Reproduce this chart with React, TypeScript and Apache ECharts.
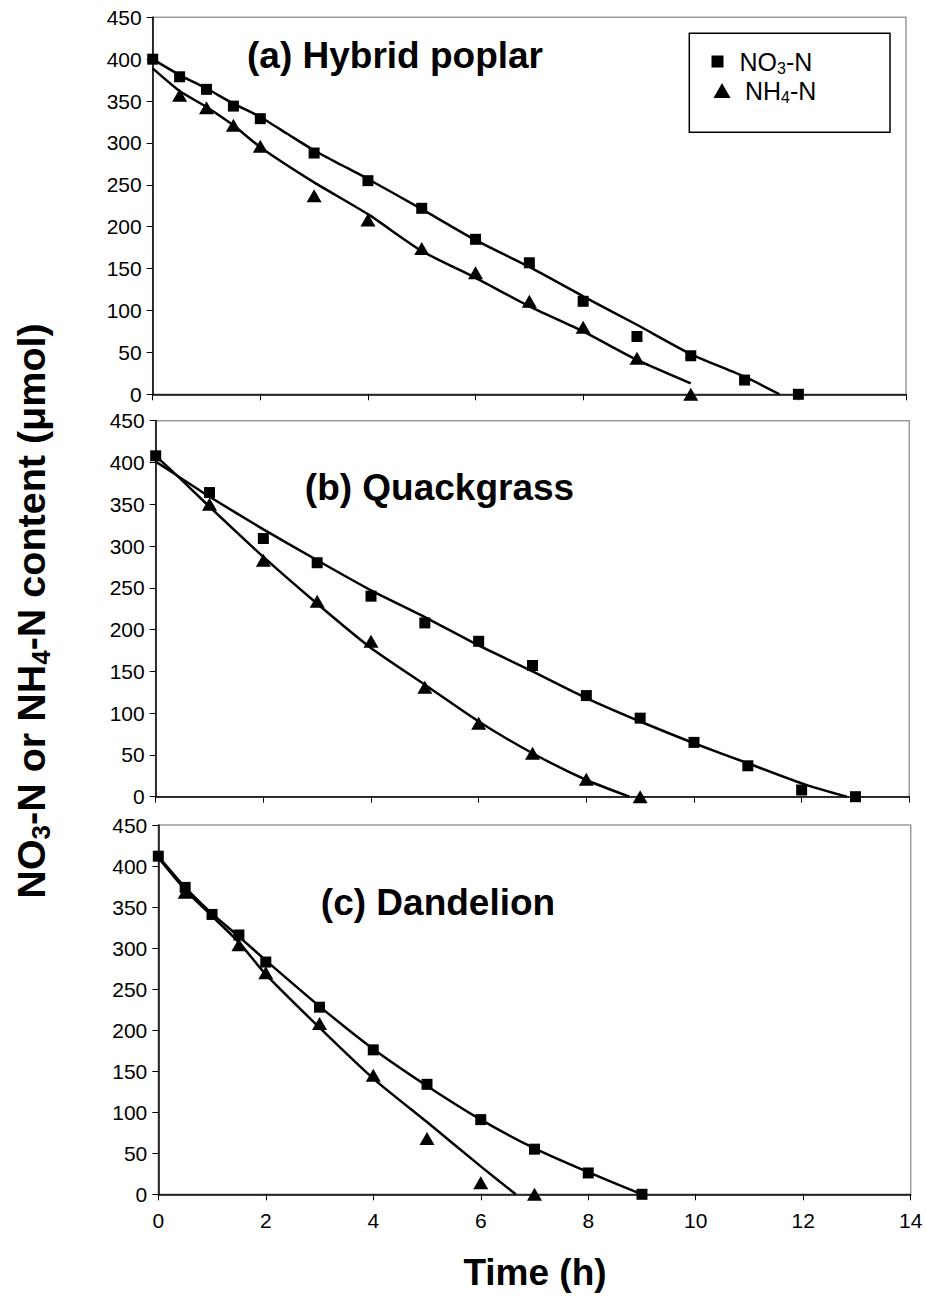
import React, { useEffect, useRef } from "react";
import * as echarts from "echarts";

// ---------- Data ----------
// Panel (a) Hybrid poplar
const timeA_NO3 = [0, 0.5, 1, 1.5, 2, 3, 4, 5, 6, 7, 8, 9, 10, 11, 12];
const valA_NO3 = [400, 379, 364, 344, 329, 288, 255, 222, 185, 157, 111, 69, 46, 17, 0];
const timeA_NH4 = [0.5, 1, 1.5, 2, 3, 4, 5, 6, 7, 8, 9, 10];
const valA_NH4 = [357, 342, 321, 296, 237, 208, 174, 145, 111, 80, 43, 0];
const fitTimeA_NO3 = [0, 0.5, 1, 1.5, 2, 2.5, 3, 3.5, 4, 5, 6, 7, 8, 9, 10, 11, 11.65];
const fitValA_NO3 = [400, 381, 365, 347, 331, 311, 291, 274, 257, 221, 184, 152, 117, 83, 48, 21, 0];
const fitTimeA_NH4 = [0, 0.5, 1, 1.5, 2, 3, 4, 5, 6, 7, 8, 9, 10];
const fitValA_NH4 = [389, 362, 343, 321, 295, 253, 215, 171, 139, 105, 75, 41, 13];

// Panel (b) Quackgrass
const timeB_NO3 = [0, 1, 2, 3, 4, 5, 6, 7, 8, 9, 10, 11, 12, 13];
const valB_NO3 = [408, 364, 309, 280, 240, 208, 186, 157, 121, 94, 65, 37, 8, 0];
const timeB_NH4 = [1, 2, 3, 4, 5, 6, 7, 8, 9];
const valB_NH4 = [350, 283, 234, 186, 131, 88, 52, 21, 0];
const fitTimeB_NO3 = [0, 0.5, 1, 2, 3, 4, 5, 6, 7, 8, 9, 10, 11, 12, 12.84];
const fitValB_NO3 = [401, 380, 359, 320, 283, 247, 215, 181, 150, 118, 90, 64, 40, 16, 0];
const fitTimeB_NH4 = [0, 0.5, 1, 2, 3, 4, 5, 6, 7, 8, 8.8];
const fitValB_NH4 = [408, 378, 347, 287, 231, 178, 134, 90, 52, 20, 0];

// Panel (c) Dandelion
const timeC_NO3 = [0, 0.5, 1, 1.5, 2, 3, 4, 5, 6, 7, 8, 9];
const valC_NO3 = [412, 374, 341, 316, 283, 228, 176, 134, 91, 55, 26, 0];
const timeC_NH4 = [0.5, 1.5, 2, 3, 4, 5, 6, 7];
const valC_NH4 = [368, 304, 270, 208, 145, 68, 14, 0];
const fitTimeC_NO3 = [0, 0.5, 1, 1.5, 2, 3, 4, 5, 6, 7, 8, 9];
const fitValC_NO3 = [412, 374, 342, 314, 285, 229, 177, 132, 91, 56, 27, 0];
const fitTimeC_NH4 = [0, 0.5, 1, 1.5, 2, 3, 4, 5, 6, 6.65];
const fitValC_NH4 = [410, 371, 339, 307, 268, 203, 141, 88, 34, 0];

const panelTitles = ["(a) Hybrid poplar", "(b) Quackgrass", "(c) Dandelion"];
const xTicks = { min: 0, max: 14, interval: 2 };
const yTicks = { min: 0, max: 450, interval: 50 };

// ---------- helpers ----------
const zip = (t: number[], v: number[]) => t.map((x, i) => [x, v[i]]);
const FF = 'Arial, "Liberation Sans", Helvetica, sans-serif';

const panels = [
  { no3: zip(timeA_NO3, valA_NO3), nh4: zip(timeA_NH4, valA_NH4), fNo3: zip(fitTimeA_NO3, fitValA_NO3), fNh4: zip(fitTimeA_NH4, fitValA_NH4) },
  { no3: zip(timeB_NO3, valB_NO3), nh4: zip(timeB_NH4, valB_NH4), fNo3: zip(fitTimeB_NO3, fitValB_NO3), fNh4: zip(fitTimeB_NH4, fitValB_NH4) },
  { no3: zip(timeC_NO3, valC_NO3), nh4: zip(timeC_NH4, valC_NH4), fNo3: zip(fitTimeC_NO3, fitValC_NO3), fNh4: zip(fitTimeC_NH4, fitValC_NH4) },
];

const gridBoxes = [
  { left: 152.7, top: 17.3, width: 753.3, height: 377 },
  { left: 155.7, top: 420.7, width: 753.6, height: 376 },
  { left: 158.3, top: 825, width: 752.4, height: 369.3 },
];
const titlePos = [
  [395, 55],
  [439.5, 487],
  [438, 902.5],
];

function buildOption() {
  const grid = gridBoxes.map((g) => ({
    ...g,
    show: true,
    borderColor: "#9a9a9a",
    borderWidth: 1.5,
    backgroundColor: "transparent",
  }));
  const xAxis = gridBoxes.map((_, i) => ({
    type: "value",
    gridIndex: i,
    min: xTicks.min,
    max: xTicks.max,
    interval: xTicks.interval,
    axisLine: { show: true, onZero: false, lineStyle: { color: "#000", width: 1.5 } },
    axisTick: { show: true, inside: false, length: 6, lineStyle: { color: "#000", width: 1 } },
    axisLabel: { show: i === 2, fontSize: 21, color: "#000", fontFamily: FF, margin: 16 },
    splitLine: { show: false },
  }));
  const yAxis = gridBoxes.map((_, i) => ({
    type: "value",
    gridIndex: i,
    min: yTicks.min,
    max: yTicks.max,
    interval: yTicks.interval,
    axisLine: { show: true, lineStyle: { color: "#000", width: 1.5 } },
    axisTick: { show: true, inside: false, length: 6, lineStyle: { color: "#000", width: 1 } },
    axisLabel: { fontSize: 21, color: "#000", fontFamily: FF, margin: 11 },
    splitLine: { show: false },
  }));
  const series: any[] = [];
  panels.forEach((p, i) => {
    series.push({
      name: "NO3-N fit",
      type: "line",
      xAxisIndex: i,
      yAxisIndex: i,
      data: p.fNo3,
      symbol: "none",
      showSymbol: false,
      smooth: 0.2,
      lineStyle: { color: "#000", width: 2.5 },
      z: 3,
      silent: true,
    });
    series.push({
      name: "NH4-N fit",
      type: "line",
      xAxisIndex: i,
      yAxisIndex: i,
      data: p.fNh4,
      symbol: "none",
      showSymbol: false,
      smooth: 0.2,
      lineStyle: { color: "#000", width: 2.5 },
      z: 3,
      silent: true,
    });
    series.push({
      name: "NO3-N",
      type: "scatter",
      xAxisIndex: i,
      yAxisIndex: i,
      data: p.no3,
      symbol: "rect",
      symbolSize: 11,
      itemStyle: { color: "#000", opacity: 1 },
      z: 5,
    });
    series.push({
      name: "NH4-N",
      type: "scatter",
      xAxisIndex: i,
      yAxisIndex: i,
      data: p.nh4,
      symbol: "triangle",
      symbolSize: [15, 13],
      itemStyle: { color: "#000", opacity: 1 },
      z: 5,
    });
  });

  const legRich = {
    a: { fontSize: 25, fontFamily: FF, color: "#000", lineHeight: 30 },
    s: { fontSize: 16, fontFamily: FF, color: "#000", lineHeight: 18, verticalAlign: "bottom" },
  };

  const legend = [
    {
      data: [{ name: "NO3-N", icon: "rect" }],
      left: 711.5,
      top: 49,
      padding: 0,
      itemWidth: 12,
      itemHeight: 12,
      selectedMode: false,
      itemStyle: { opacity: 1 },
      formatter: () => "{a|NO}{s|3}{a|-N}",
      textStyle: { padding: [0, 0, 0, 11], rich: legRich },
    },
    {
      data: [{ name: "NH4-N", icon: "triangle" }],
      left: 713.5,
      top: 78,
      padding: 0,
      itemWidth: 17,
      itemHeight: 15,
      selectedMode: false,
      itemStyle: { opacity: 1 },
      formatter: () => "{a|NH}{s|4}{a|-N}",
      textStyle: { padding: [0, 0, 0, 9.5], rich: legRich },
    },
  ];

  const graphic: any[] = [
    {
      type: "rect",
      shape: { x: 689.3, y: 33.3, width: 200.7, height: 99 },
      style: { fill: "none", stroke: "#000", lineWidth: 1.5 },
      z: 10,
    },
    ...panelTitles.map((t, i) => ({
      type: "text",
      x: titlePos[i][0],
      y: titlePos[i][1],
      style: {
        text: t,
        fontSize: 37,
        fontWeight: "bold",
        fontFamily: FF,
        fill: "#000",
        align: "center",
        verticalAlign: "middle",
      },
      z: 10,
    })),
    {
      type: "text",
      x: 535,
      y: 1272,
      style: {
        text: "Time (h)",
        fontSize: 37,
        fontWeight: "bold",
        fontFamily: FF,
        fill: "#000",
        align: "center",
        verticalAlign: "middle",
      },
      z: 10,
    },
    {
      type: "text",
      x: 31,
      y: 611,
      rotation: Math.PI / 2,
      style: {
        text: "{a|NO}{s|3}{a|-N or NH}{s|4}{a|-N content (μmol)}",
        align: "center",
        verticalAlign: "middle",
        fill: "#000",
        rich: {
          a: { fontSize: 39.5, fontWeight: "bold", fontFamily: FF, fill: "#000", lineHeight: 46 },
          s: { fontSize: 26, fontWeight: "bold", fontFamily: FF, fill: "#000", lineHeight: 29, verticalAlign: "bottom" },
        },
      },
      z: 10,
    },
  ];

  return {
    animation: false,
    backgroundColor: "#fff",
    grid,
    xAxis,
    yAxis,
    series,
    legend,
    graphic,
  };
}

export default function App() {
  const ref = useRef<HTMLDivElement>(null);
  useEffect(() => {
    if (!ref.current) return;
    const chart = echarts.init(ref.current, null, { renderer: "svg" });
    chart.setOption(buildOption() as any);
    return () => chart.dispose();
  }, []);
  return (
    <div
      ref={ref}
      style={{ position: "absolute", left: 0, top: 0, width: 927, height: 1298, background: "#fff" }}
    />
  );
}
